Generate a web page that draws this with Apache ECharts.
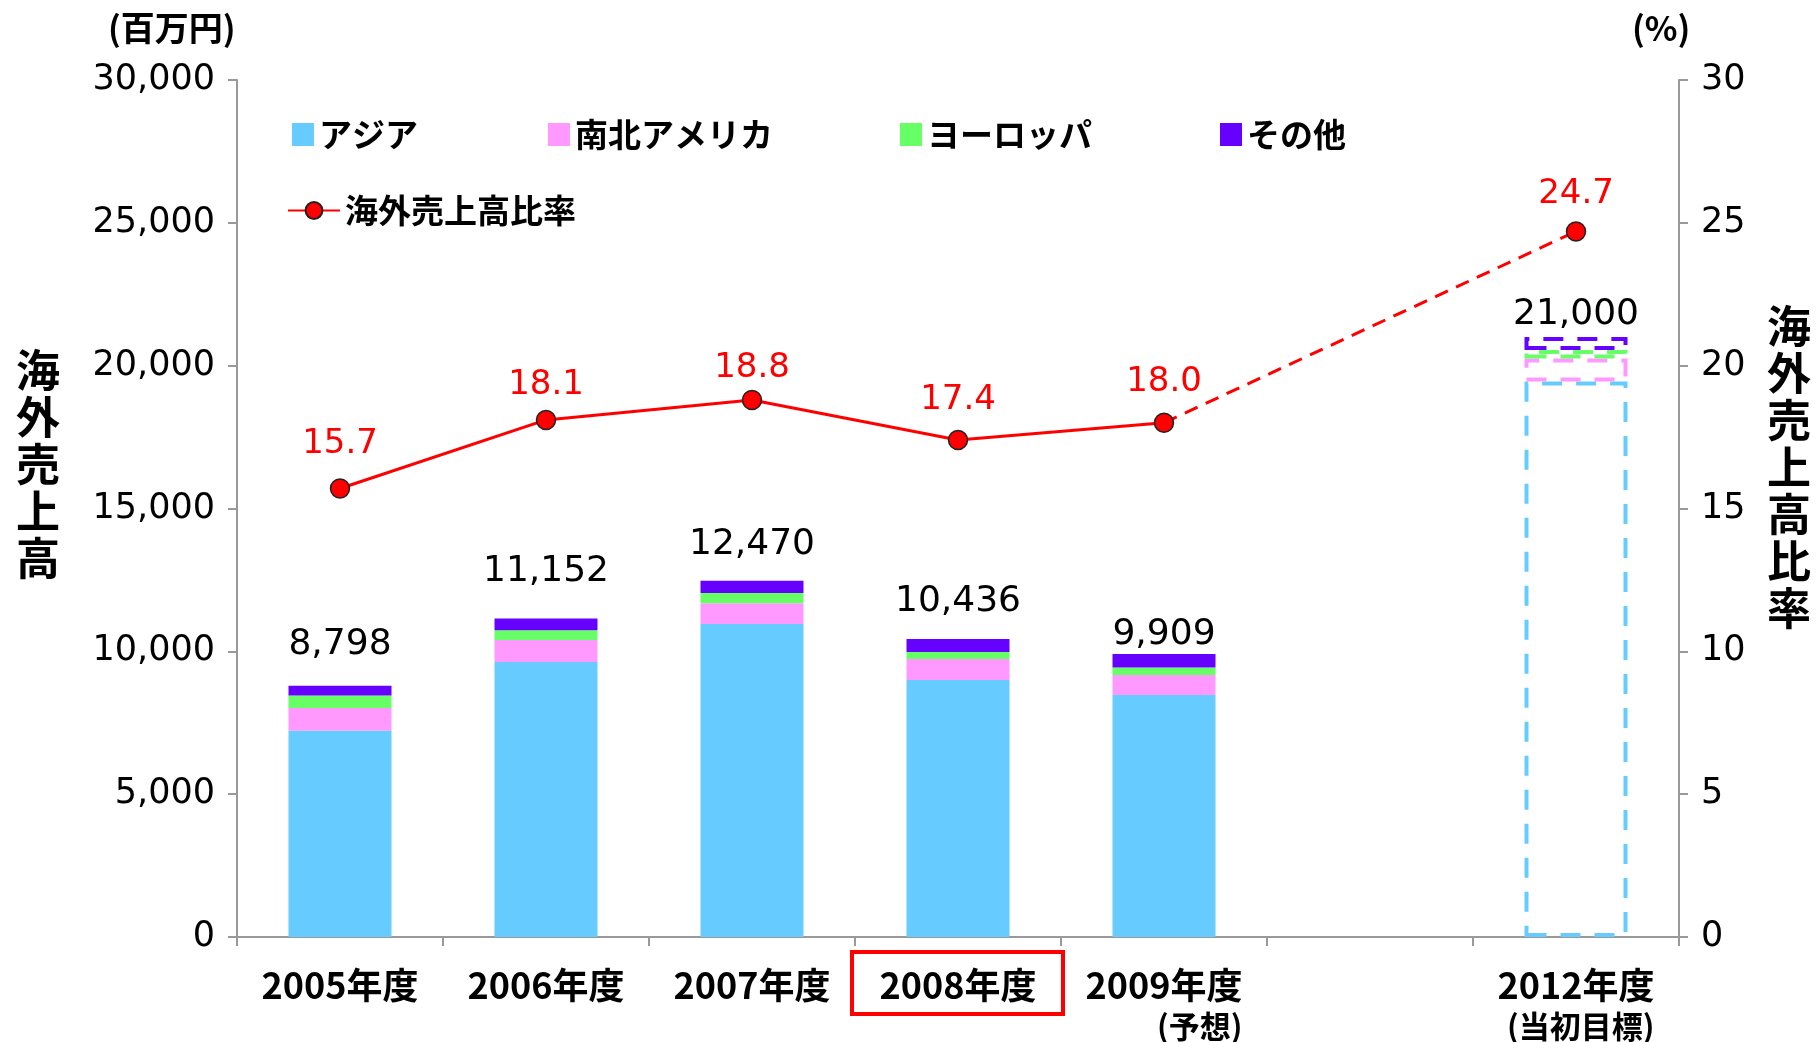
<!DOCTYPE html>
<html>
<head>
<meta charset="utf-8">
<script src="https://cdn.jsdelivr.net/npm/echarts@6/dist/echarts.min.js"></script>
<style>
  html, body { margin: 0; padding: 0; background: #fff; }
  #chart { width: 1816px; height: 1042px; }
</style>
</head>
<body>
<div id="chart"></div>
<script>
// 年度
const categories = ['2005年度', '2006年度', '2007年度', '2008年度', '2009年度\n(予想)', '', '2012年度\n(当初目標)']
// 地域別 海外売上高 (百万円)
const asia = [7230, 9628, 10958, 9000, 8474, null, 19450]
const america = [790, 769, 724, 733, 699, null, 800]
const europe = [430, 340, 360, 244, 258, null, 300]
const other = [348, 415, 428, 459, 478, null, 450]
const totals = [8798, 11152, 12470, 10436, 9909, null, 21000]
// 海外売上高比率 (%)
const ratio = [15.7, 18.1, 18.8, 17.4, 18.0, null, 24.7]

const targetIdx = 6 // 2012 当初目標 -> 破線
const lastActual = 4

const colors = {
  asia: '#66CCFF',
  america: '#FF99FF',
  europe: '#66FF66',
  other: '#6600FF',
  line: '#FF0000'
}
// ラベルの間隔 (表示調整用)
const totalLabelGap = [23, 29, 18, 19, 1, 0, 4]
const ratioLabelGap = [17, 8, 5, 13, 13, 0, 10]

const jp = '"Noto Sans CJK JP", sans-serif'
const num = '"DejaVu Sans", sans-serif'

function barData(values, color) {
  return values.map((v, i) => {
    if (i !== targetIdx) return v
    return {
      value: v,
      itemStyle: {
        color: 'rgba(255,255,255,0)',
        borderColor: color,
        borderWidth: 4,
        borderType: [20, 14]
      }
    }
  })
}

function barSeries(name, values, color) {
  return {
    name: name,
    type: 'bar',
    stack: 'sales',
    barWidth: '50%',
    itemStyle: { color: color },
    data: barData(values, color)
  }
}

const otherData = barData(other, colors.other).map((d, i) => {
  const item = (d !== null && typeof d === 'object') ? d : { value: d }
  item.label = { distance: totalLabelGap[i] }
  return item
})

const ratioLabel = {
  show: true,
  position: 'top',
  color: colors.line,
  fontFamily: num,
  fontSize: 34,
  formatter: p => p.value.toFixed(1)
}

const chart = echarts.init(document.getElementById('chart'))
const legendText = { fontFamily: jp, fontSize: 33, fontWeight: 'bold', color: '#000' }
const sq = { itemWidth: 22, itemHeight: 23, icon: 'rect', padding: 0, textStyle: legendText }

const option = {
  animation: false,
  textStyle: { fontFamily: num },
  grid: { left: 237, right: 137, top: 80, bottom: 104, containLabel: false },
  legend: [
    Object.assign({ data: ['アジア'], left: 292, top: 118 }, sq),
    Object.assign({ data: ['南北アメリカ'], left: 548, top: 118 }, sq),
    Object.assign({ data: ['ヨーロッパ'], left: 900, top: 118 }, sq),
    Object.assign({ data: ['その他'], left: 1220, top: 118 }, sq),
    { data: ['海外売上高比率'], left: 287, top: 194, padding: 0, itemWidth: 52, itemHeight: 21, textStyle: legendText }
  ],
  xAxis: {
    type: 'category',
    data: categories,
    axisLine: { lineStyle: { color: '#999', width: 2 } },
    axisTick: { show: true, length: 9, interval: 0, lineStyle: { color: '#999', width: 2 } },
    axisLabel: {
      interval: 0,
      margin: 28,
      color: '#000',
      formatter: function(value) {
        const parts = value.split('\n')
        if (parts.length < 2) return '{a|' + value + '}'
        return '{a|' + parts[0] + '}\n{b|' + parts[1] + '}'
      },
      rich: {
        a: { fontFamily: jp, fontSize: 36, fontWeight: 'bold', color: '#000', lineHeight: 41 },
        b: { fontFamily: jp, fontSize: 31, fontWeight: 'bold', color: '#000', lineHeight: 41, align: 'right' }
      }
    }
  },
  yAxis: [
    {
      type: 'value',
      min: 0,
      max: 30000,
      interval: 5000,
      splitLine: { show: false },
      axisLine: { show: true, lineStyle: { color: '#999', width: 2 } },
      axisTick: { show: true, length: 9, lineStyle: { color: '#999', width: 2 } },
      axisLabel: {
        margin: 22,
        color: '#000',
        fontFamily: num,
        fontSize: 35,
        formatter: v => v.toLocaleString('en-US')
      }
    },
    {
      type: 'value',
      min: 0,
      max: 30,
      interval: 5,
      splitLine: { show: false },
      axisLine: { show: true, lineStyle: { color: '#999', width: 2 } },
      axisTick: { show: true, length: 9, lineStyle: { color: '#999', width: 2 } },
      axisLabel: { margin: 22, color: '#000', fontFamily: num, fontSize: 35 }
    }
  ],
  series: [
    barSeries('アジア', asia, colors.asia),
    barSeries('南北アメリカ', america, colors.america),
    barSeries('ヨーロッパ', europe, colors.europe),
    {
      name: 'その他',
      type: 'bar',
      stack: 'sales',
      barWidth: '50%',
      itemStyle: { color: colors.other },
      label: {
        show: true,
        position: 'top',
        color: '#000',
        fontFamily: num,
        fontSize: 36,
        formatter: p => totals[p.dataIndex] == null ? '' : totals[p.dataIndex].toLocaleString('en-US')
      },
      data: otherData
    },
    {
      name: '海外売上高比率',
      type: 'line',
      yAxisIndex: 1,
      z: 5,
      data: ratio.map((v, i) => i <= lastActual ? { value: v, label: { distance: ratioLabelGap[i] } } : null),
      lineStyle: { color: colors.line, width: 3 },
      itemStyle: { color: colors.line, borderColor: '#222', borderWidth: 1.5 },
      symbol: 'circle',
      symbolSize: 19,
      label: ratioLabel
    },
    {
      name: '海外売上高比率',
      type: 'line',
      yAxisIndex: 1,
      z: 4,
      connectNulls: true,
      data: ratio.map((v, i) => {
        if (i < lastActual || v == null) return null
        if (i === lastActual) return { value: v, symbol: 'none', label: { show: false } }
        return { value: v, label: { distance: ratioLabelGap[i] } }
      }),
      lineStyle: { color: colors.line, width: 3, type: [14, 9] },
      itemStyle: { color: colors.line, borderColor: '#222', borderWidth: 1.5 },
      symbol: 'circle',
      symbolSize: 19,
      label: ratioLabel
    }
  ],
  graphic: [
    {
      type: 'text', left: 108, top: 11,
      style: { text: '(百万円)', fontFamily: jp, fontSize: 34, fontWeight: 'bold', fill: '#000' }
    },
    {
      type: 'text', left: 1632, top: 11,
      style: { text: '(%)', fontFamily: jp, fontSize: 34, fontWeight: 'bold', fill: '#000' }
    },
    {
      type: 'text', left: 16, top: 347,
      style: { text: '海\n外\n売\n上\n高', fontFamily: jp, fontSize: 44, fontWeight: 'bold', lineHeight: 47, fill: '#000' }
    },
    {
      type: 'text', left: 1767, top: 303,
      style: { text: '海\n外\n売\n上\n高\n比\n率', fontFamily: jp, fontSize: 44, fontWeight: 'bold', lineHeight: 47, fill: '#000' }
    },
    {
      type: 'rect',
      shape: { x: 852, y: 952, width: 211, height: 62 },
      style: { fill: 'none', stroke: '#FF0000', lineWidth: 4 }
    }
  ]
}

chart.setOption(option)
</script>
</body>
</html>
